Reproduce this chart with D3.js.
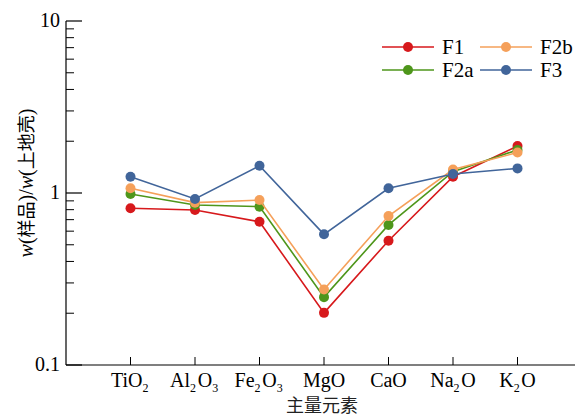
<!DOCTYPE html>
<html>
<head>
<meta charset="utf-8">
<script src="https://cdn.jsdelivr.net/npm/d3@7"></script>
</head>
<body style="margin:0; background:#fff">
<svg id="chart" width="575" height="417"></svg>
<script>
const oxides = ['TiO2', 'Al2O3', 'Fe2O3', 'MgO', 'CaO', 'Na2O', 'K2O'];
const F1  = [0.815, 0.796, 0.681, 0.201, 0.528, 1.244, 1.876];
const F2a = [0.987, 0.852, 0.833, 0.248, 0.652, 1.33, 1.78];
const F2b = [1.065, 0.879, 0.91, 0.275, 0.735, 1.37, 1.72];
const F3  = [1.244, 0.923, 1.44, 0.575, 1.065, 1.29, 1.39];
const yTicks = [0.1, 1, 10];

const colors = { F1: '#d7191c', F2a: '#4e961b', F2b: '#f5a05a', F3: '#41659a' };
const series = [
  { name: 'F1', values: F1 },
  { name: 'F2a', values: F2a },
  { name: 'F2b', values: F2b },
  { name: 'F3', values: F3 }
];
const serif = 'Liberation Serif';
const cjk = 'Noto Sans CJK SC';

const svg = d3.select('#chart');
const mLeft = 66, mTop = 21, mBottom = 365;

const x = d3.scalePoint().domain(oxides).range([mLeft, 582]).padding(1);
const y = d3.scaleLog().domain([0.1, 10]).range([mBottom, mTop]);

// y axis: line + inward ticks
const yAxis = svg.append('g');
yAxis.append('line')
  .attr('x1', mLeft).attr('x2', mLeft)
  .attr('y1', mTop).attr('y2', mBottom)
  .attr('stroke', '#000').attr('stroke-width', 1.2);

const minor = [];
[0.1, 1].forEach(d => { for (let k = 2; k <= 9; k++) minor.push(d * k); });
yAxis.selectAll('.minor').data(minor).join('line')
  .attr('x1', mLeft).attr('x2', mLeft + 8)
  .attr('y1', d => y(d)).attr('y2', d => y(d))
  .attr('stroke', '#000').attr('stroke-width', 1);
yAxis.selectAll('.major').data(yTicks).join('line')
  .attr('x1', mLeft).attr('x2', mLeft + 16)
  .attr('y1', d => y(d)).attr('y2', d => y(d))
  .attr('stroke', '#000').attr('stroke-width', 1.2);
yAxis.selectAll('.lab').data(yTicks).join('text')
  .attr('x', mLeft - 6).attr('y', d => y(d))
  .attr('dy', '0.32em')
  .attr('text-anchor', 'end')
  .attr('font-family', serif)
  .attr('font-size', 20)
  .text(d => d);

// x axis
const xAxis = svg.append('g');
xAxis.append('line')
  .attr('x1', mLeft).attr('x2', 575)
  .attr('y1', mBottom).attr('y2', mBottom)
  .attr('stroke', '#000').attr('stroke-width', 1.2);
xAxis.selectAll('.tick').data(oxides).join('line')
  .attr('x1', d => x(d)).attr('x2', d => x(d))
  .attr('y1', mBottom).attr('y2', mBottom - 8)
  .attr('stroke', '#000').attr('stroke-width', 1);

const xl = xAxis.selectAll('.lab').data(oxides).join('text')
  .attr('x', d => x(d)).attr('y', mBottom + 22)
  .attr('text-anchor', 'middle')
  .attr('font-family', serif)
  .attr('font-size', 20);
xl.each(function(d) {
  const t = d3.select(this);
  d.split(/(\d)/).filter(s => s).forEach(s => {
    if (/\d/.test(s)) {
      t.append('tspan').attr('font-size', 12).attr('dy', 5).text(s);
      t.append('tspan').attr('dy', -5).text('\u200a');
    } else {
      t.append('tspan').text(s);
    }
  });
});

svg.append('text')
  .attr('x', 322).attr('y', 412)
  .attr('text-anchor', 'middle')
  .attr('font-family', cjk)
  .attr('font-size', 18)
  .attr('fill', '#222')
  .text('主量元素');

// y title
const yt = svg.append('text')
  .attr('transform', 'translate(33,183) rotate(-90)')
  .attr('text-anchor', 'middle')
  .attr('font-family', serif)
  .attr('font-size', 20);
yt.append('tspan').attr('font-style', 'italic').text('w');
yt.append('tspan').text('(');
yt.append('tspan').attr('font-family', cjk).attr('font-size', 18).text('样品');
yt.append('tspan').text(')/');
yt.append('tspan').attr('font-style', 'italic').text('w');
yt.append('tspan').text('(');
yt.append('tspan').attr('font-family', cjk).attr('font-size', 18).text('上地壳');
yt.append('tspan').text(')');

// lines + markers
const line = d3.line().x((d, i) => x(oxides[i])).y(d => y(d));
const g = svg.selectAll('.series').data(series).join('g');
g.append('path')
  .attr('d', d => line(d.values))
  .attr('fill', 'none')
  .attr('stroke', d => colors[d.name])
  .attr('stroke-width', 1.6);
g.selectAll('circle').data(d => d.values.map(v => ({ v, name: d.name })))
  .join('circle')
  .attr('cx', (d, i) => x(oxides[i]))
  .attr('cy', d => y(d.v))
  .attr('r', 5)
  .attr('fill', d => colors[d.name]);

// legend
const legendItems = ['F1', 'F2b', 'F2a', 'F3'];
const lg = svg.selectAll('.leg').data(legendItems).join('g')
  .attr('transform', (d, i) => `translate(${382 + (i % 2) * 98}, ${47 + Math.floor(i / 2) * 23})`);
lg.append('line')
  .attr('x1', 0).attr('x2', 52)
  .attr('stroke', d => colors[d]).attr('stroke-width', 1.6);
lg.append('circle')
  .attr('cx', 26).attr('r', 5)
  .attr('fill', d => colors[d]);
lg.append('text')
  .attr('x', 60).attr('dy', '0.35em')
  .attr('font-family', serif)
  .attr('font-size', 21)
  .text(d => d);
</script>
</body>
</html>
